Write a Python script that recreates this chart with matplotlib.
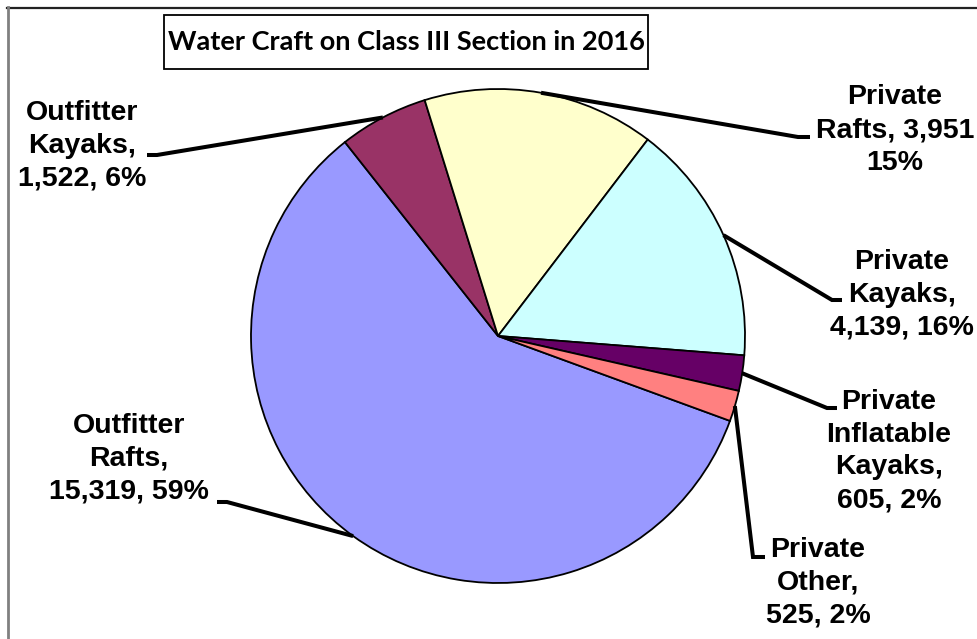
import matplotlib
matplotlib.use('Agg')
import matplotlib.pyplot as plt
from matplotlib.patches import Rectangle
import numpy as np

# ---- data ----
categories = ["Outfitter Rafts", "Outfitter Kayaks", "Private Rafts",
              "Private Kayaks", "Private Inflatable Kayaks", "Private Other"]
counts = [15319, 1522, 3951, 4139, 605, 525]
label_texts = ["Outfitter\nRafts,\n15,319, 59%",
               "Outfitter\nKayaks,\n1,522, 6%",
               "Private\nRafts, 3,951\n15%",
               "Private\nKayaks,\n4,139, 16%",
               "Private\nInflatable\nKayaks,\n605, 2%",
               "Private\nOther,\n525, 2%"]
colors = ["#9999FF", "#993366", "#FFFFCC", "#CCFFFF", "#660066", "#FF8080"]
title = "Water Craft on Class III Section in 2016"

# ---- layout ----
W, H = 978, 639
fig = plt.figure(figsize=(W / 100, H / 100), dpi=100)
ax = fig.add_axes([0, 0, 1, 1])


def Y(y):
    return H - y


cx, cy, R = 498, Y(336), 247
wedges, _ = ax.pie(counts, colors=colors, startangle=-20.1, counterclock=False,
                   center=(cx, cy), radius=R,
                   wedgeprops=dict(edgecolor='black', linewidth=1.3))
ax.set_xlim(0, W)
ax.set_ylim(0, H)
ax.set_aspect('equal')
ax.axis('off')

# text centre x, text centre y, leader elbow x, elbow y, leader end x
layout = [
    (129, 459, 227, 502, 217),
    (82, 146, 157, 155, 147),
    (895, 130, 798, 137, 810),
    (902, 295, 832, 300, 842),
    (889, 451, 827, 408, 837),
    (818, 583, 753, 557, 765),
]

for w, txt, (tx, ty, ex, ey, lx) in zip(wedges, label_texts, layout):
    mid = np.deg2rad((w.theta1 + w.theta2) / 2)
    sx = cx + R * np.cos(mid)
    sy = cy + R * np.sin(mid)
    ax.plot([sx, ex, lx], [sy, Y(ey), Y(ey)], color='black', lw=2.9,
            solid_capstyle='butt', solid_joinstyle='miter', zorder=3)
    ax.text(tx, Y(ty), txt, ha='center', va='center', multialignment='center',
            fontfamily='Liberation Sans', fontweight='bold', fontsize=20.5,
            linespacing=1.34, color='black', zorder=4)

# title box
ax.add_patch(Rectangle((164, Y(69)), 484, 54, fill=False, edgecolor='black',
                       lw=1.3, zorder=5))
t = ax.text(406, Y(42), title, ha='center', va='center',
            fontfamily='Lato', fontweight='bold', fontsize=22,
            color='black', zorder=6)
renderer = fig.canvas.get_renderer()
bb = t.get_window_extent(renderer)
t.set_fontsize(22 * 476 / bb.width)

# chart border (top and left edges visible)
ax.plot([7, W], [Y(7.5), Y(7.5)], color='#222222', lw=1.6, zorder=2)
ax.plot([8, 8], [Y(7), 0], color='#808080', lw=2.0, zorder=2)

fig.savefig('out.png', dpi=100)
